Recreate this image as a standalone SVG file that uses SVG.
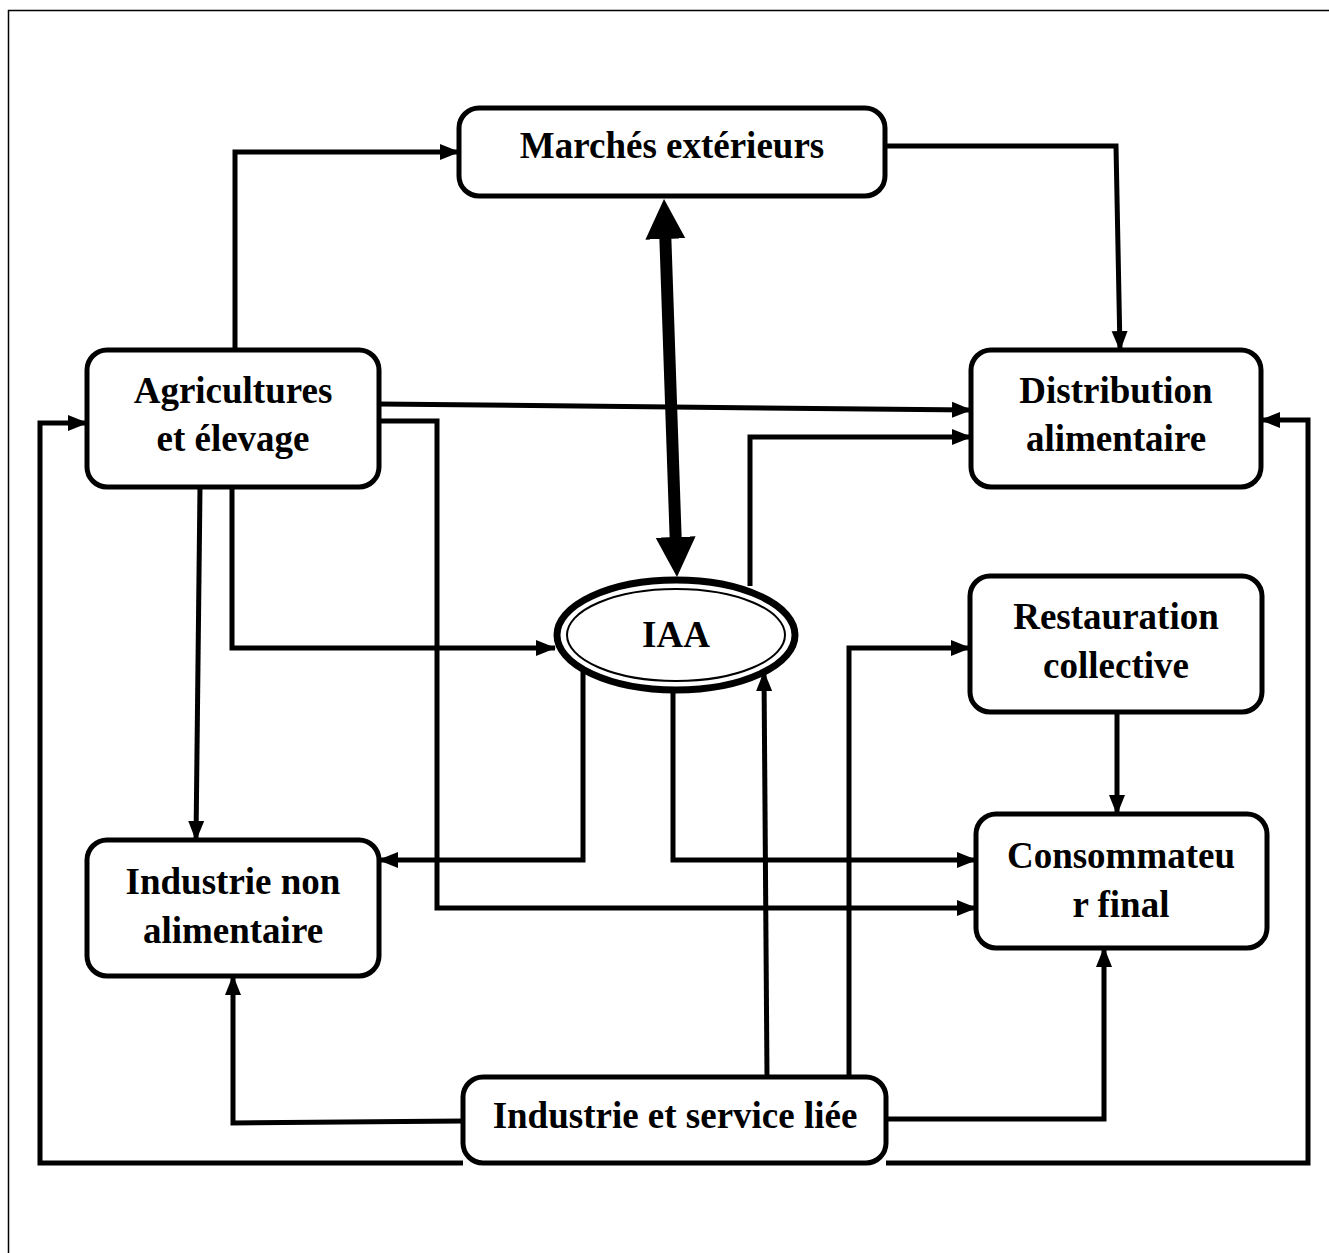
<svg xmlns="http://www.w3.org/2000/svg" width="1329" height="1253" viewBox="0 0 1329 1253">
  <style>
    .box { fill: #fff; stroke: #000; stroke-width: 5; }
    .lbl { font-family: "Liberation Serif", "Times New Roman", serif; font-weight: bold; font-size: 37px; text-anchor: middle; fill: #000; }
    .wire { fill: none; stroke: #000; stroke-width: 5; stroke-linejoin: miter; }
    .frame { fill: none; stroke: #000; stroke-width: 1.5; }
  </style>
  <defs>
    <marker id="head" markerUnits="userSpaceOnUse" markerWidth="20" markerHeight="18" refX="19" refY="9" orient="auto">
      <path d="M0,1 L20,9 L0,17 Z" fill="#000"/>
    </marker>
    <!-- heavy two-way head; the tip sits 20px beyond the shaft end -->
    <marker id="bighead" markerUnits="userSpaceOnUse" markerWidth="42" markerHeight="42" refX="20" refY="20" orient="auto-start-reverse">
      <path d="M0,0 L40,20 L0,40 Z" fill="#000"/>
    </marker>
  </defs>

  <rect width="1329" height="1253" fill="#fff"/>
  <!-- page frame -->
  <path class="frame" d="M8.5,1253 V10.5 H1329"/>

  <!-- connectors -->
  <g id="connectors">
    <path class="wire" d="M235,350 V152 H459" marker-end="url(#head)"/>
    <path class="wire" d="M885,146 H1116 L1120,350" marker-end="url(#head)"/>
    <path d="M664.7,219 L676.3,557" fill="none" stroke="#000" stroke-width="12" marker-start="url(#bighead)" marker-end="url(#bighead)"/>
    <path class="wire" d="M379,404 L971,410" marker-end="url(#head)"/>
    <path class="wire" d="M379,421 H437 V908 H976" marker-end="url(#head)"/>
    <path class="wire" d="M200,487 L196,840" marker-end="url(#head)"/>
    <path class="wire" d="M232,487 V648 H555" marker-end="url(#head)"/>
    <path class="wire" d="M583,672 V860 H379" marker-end="url(#head)"/>
    <path class="wire" d="M673,692 V860 H976" marker-end="url(#head)"/>
    <path class="wire" d="M750,586 V437 H971" marker-end="url(#head)"/>
    <path class="wire" d="M767,1077 L764,672" marker-end="url(#head)"/>
    <path class="wire" d="M849,1077 V648 H970" marker-end="url(#head)"/>
    <path class="wire" d="M1117,712 V814" marker-end="url(#head)"/>
    <path class="wire" d="M886,1119 H1104 V948" marker-end="url(#head)"/>
    <path class="wire" d="M463,1121 L233,1123 V976" marker-end="url(#head)"/>
    <path class="wire" d="M463,1163 H40 V423 H87" marker-end="url(#head)"/>
    <path class="wire" d="M886,1163 H1308 V420 H1261" marker-end="url(#head)"/>
  </g>

  <!-- nodes -->
  <g id="marches">
    <rect class="box" x="459" y="108" width="426" height="88" rx="20"/>
    <text class="lbl" x="672" y="158">Marchés extérieurs</text>
  </g>
  <g id="agriculture">
    <rect class="box" x="87" y="350" width="292" height="137" rx="20"/>
    <text class="lbl" x="233" y="403">Agricultures</text>
    <text class="lbl" x="233" y="451">et élevage</text>
  </g>
  <g id="distribution">
    <rect class="box" x="971" y="350" width="290" height="137" rx="20"/>
    <text class="lbl" x="1116" y="403">Distribution</text>
    <text class="lbl" x="1116" y="451">alimentaire</text>
  </g>
  <g id="iaa">
    <ellipse cx="676" cy="635" rx="119" ry="55" fill="#fff" stroke="#000" stroke-width="7"/>
    <ellipse cx="676" cy="635" rx="109" ry="46" fill="none" stroke="#000" stroke-width="2"/>
    <text class="lbl" x="676" y="647">IAA</text>
  </g>
  <g id="restauration">
    <rect class="box" x="970" y="576" width="292" height="136" rx="20"/>
    <text class="lbl" x="1116" y="629">Restauration</text>
    <text class="lbl" x="1116" y="678">collective</text>
  </g>
  <g id="industrie-non-alimentaire">
    <rect class="box" x="87" y="840" width="292" height="136" rx="20"/>
    <text class="lbl" x="233" y="894">Industrie non</text>
    <text class="lbl" x="233" y="943">alimentaire</text>
  </g>
  <g id="consommateur">
    <rect class="box" x="976" y="814" width="291" height="134" rx="20"/>
    <text class="lbl" x="1121" y="868">Consommateu</text>
    <text class="lbl" x="1121" y="917">r final</text>
  </g>
  <g id="industrie-service">
    <rect class="box" x="463" y="1077" width="423" height="86" rx="20"/>
    <text class="lbl" x="675" y="1128">Industrie et service liée</text>
  </g>
</svg>
